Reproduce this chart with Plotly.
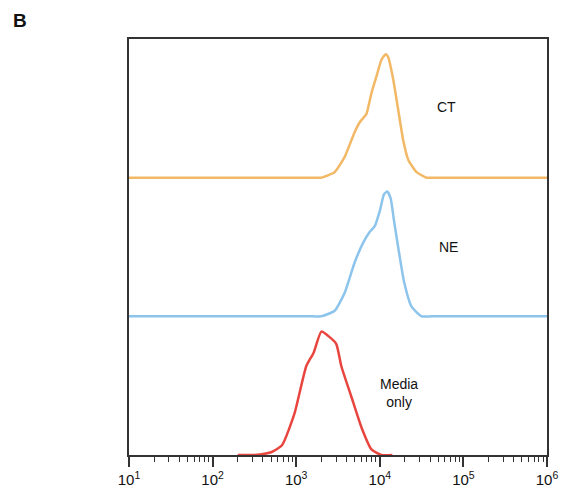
import plotly.graph_objects as go

# --- Data (log10 fluorescence intensity, normalized count) ---
media_log = [2.30, 2.50, 2.70, 2.83, 2.98, 3.12, 3.21, 3.30, 3.40, 3.48, 3.54, 3.66, 3.78, 3.90, 4.02, 4.15]
media_cnt = [0.0, 0.0, 0.02, 0.07, 0.30, 0.64, 0.74, 0.89, 0.85, 0.80, 0.64, 0.42, 0.20, 0.04, 0.0, 0.0]

ne_log = [1.0, 2.0, 3.0, 3.20, 3.30, 3.46, 3.58, 3.70, 3.80, 3.88, 3.94, 4.00, 4.05, 4.09, 4.13, 4.17, 4.23, 4.29, 4.38, 4.50, 4.62, 5.0, 6.0]
ne_cnt = [0.0, 0.0, 0.0, 0.0, 0.0, 0.04, 0.17, 0.39, 0.53, 0.61, 0.65, 0.76, 0.88, 0.90, 0.85, 0.69, 0.46, 0.25, 0.07, 0.0, 0.0, 0.0, 0.0]

ct_log = [1.0, 2.0, 3.0, 3.20, 3.30, 3.46, 3.58, 3.70, 3.76, 3.84, 3.90, 3.96, 4.02, 4.07, 4.10, 4.16, 4.22, 4.28, 4.34, 4.44, 4.56, 4.68, 5.0, 6.0]
ct_cnt = [0.0, 0.0, 0.0, 0.0, 0.0, 0.04, 0.15, 0.33, 0.40, 0.46, 0.61, 0.73, 0.85, 0.89, 0.87, 0.71, 0.49, 0.27, 0.13, 0.04, 0.0, 0.0, 0.0, 0.0]

labels = ["Media<br>only", "NE", "CT"]
offsets = [0, 1, 2]

tick_vals = [10, 100, 1000, 10000, 100000, 1000000]
tick_text = ["10<sup>1</sup>", "10<sup>2</sup>", "10<sup>3</sup>", "10<sup>4</sup>", "10<sup>5</sup>", "10<sup>6</sup>"]

# styling / placement
colors = ["#E8453F", "#8CC4EC", "#F3B865"]
label_x = [4.23, 4.82, 4.80]
label_y = [0.45, 1.50, 2.51]
FONT = "Liberation Sans, Arial, sans-serif"

series = [(media_log, media_cnt), (ne_log, ne_cnt), (ct_log, ct_cnt)]

fig = go.Figure()
for (lx, cy), off, col in zip(series, offsets, colors):
    fig.add_trace(go.Scatter(
        x=[10 ** v for v in lx],
        y=[c + off for c in cy],
        mode="lines",
        line=dict(color=col, width=2.5, shape="spline", smoothing=0.5),
        showlegend=False,
        hoverinfo="skip",
    ))

for lab, xx, yy in zip(labels, label_x, label_y):
    fig.add_annotation(
        x=xx, y=yy, xref="x", yref="y",
        text=lab, showarrow=False,
        font=dict(family=FONT, size=14, color="#111"),
        align="center",
    )

# panel letter (paper coords are relative to the plot area: x 129..547, y 39..455)
fig.add_annotation(
    x=(20 - 129) / 418, y=(455 - 20) / 416, xref="paper", yref="paper",
    text="<b>B</b>", showarrow=False, xanchor="center", yanchor="middle",
    font=dict(family=FONT, size=19, color="#111"),
)

fig.update_xaxes(
    type="log", range=[1, 6],
    tickmode="array", tickvals=tick_vals, ticktext=tick_text,
    ticks="outside", ticklen=10, tickwidth=1.5, tickcolor="#333",
    minor=dict(ticks="outside", ticklen=5, tickwidth=1.2, tickcolor="#333", dtick="D1", showgrid=False),
    showline=True, linecolor="#333", linewidth=2, mirror=True,
    showgrid=False, zeroline=False, automargin=False,
    tickfont=dict(family=FONT, size=15, color="#111"),
)
fig.update_yaxes(
    range=[0, 3], showticklabels=False, ticks="",
    showline=True, linecolor="#333", linewidth=2, mirror=True,
    showgrid=False, zeroline=False, automargin=False,
)

fig.update_layout(
    width=565, height=488,
    margin=dict(l=129, r=18, t=39, b=33),
    paper_bgcolor="white", plot_bgcolor="white",
)

fig.write_html(
    "out.html",
    config={"displayModeBar": False},
    post_script="document.body.style.margin='0';document.body.style.padding='0';",
)
